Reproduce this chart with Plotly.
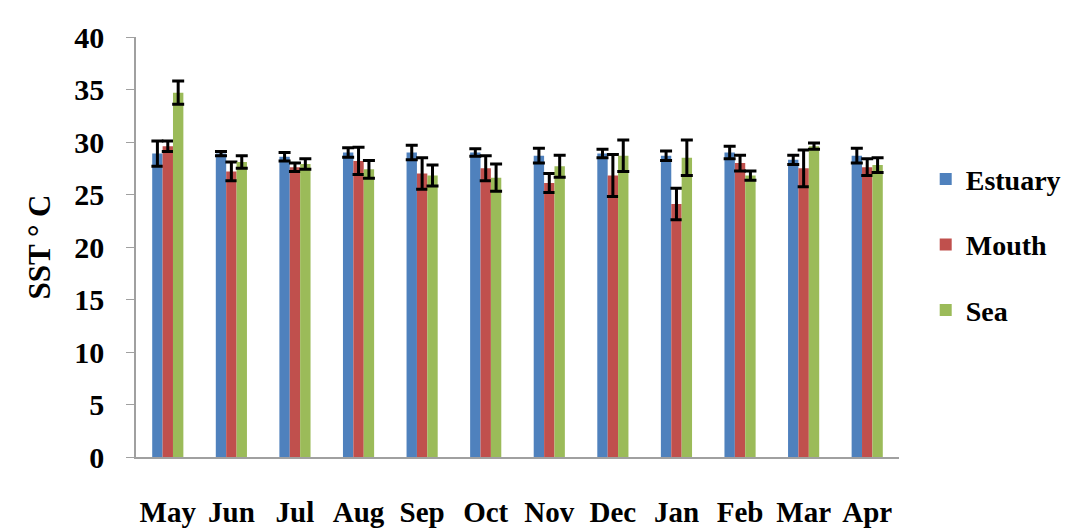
import plotly.graph_objects as go

months = ["May", "Jun", "Jul", "Aug", "Sep", "Oct", "Nov", "Dec", "Jan", "Feb", "Mar", "Apr"]
estuary = [28.9, 28.9, 28.6, 29.0, 29.0, 29.0, 28.7, 28.9, 28.7, 29.0, 28.3, 28.7]
estuary_err = [1.2, 0.2, 0.4, 0.45, 0.7, 0.35, 0.7, 0.4, 0.45, 0.6, 0.45, 0.7]
mouth = [29.6, 27.2, 27.6, 28.2, 27.0, 27.5, 26.1, 26.8, 24.1, 28.0, 27.5, 27.6]
mouth_err = [0.5, 0.9, 0.4, 1.3, 1.5, 1.2, 0.9, 2.0, 1.5, 0.75, 1.75, 0.8]
sea = [34.7, 28.1, 27.9, 27.4, 26.8, 26.6, 27.7, 28.7, 28.5, 26.8, 29.6, 27.8]
sea_err = [1.1, 0.6, 0.5, 0.85, 1.0, 1.3, 1.05, 1.5, 1.7, 0.45, 0.3, 0.7]

series = [
    ("Estuary", estuary, estuary_err, "#4F81BD"),
    ("Mouth", mouth, mouth_err, "#C0504D"),
    ("Sea", sea, sea_err, "#9BBB59"),
]

FONT = "Liberation Serif"
fig = go.Figure()
for name, vals, errs, color in series:
    fig.add_trace(go.Bar(
        name=name, x=months, y=vals, legendgroup=name,
        marker=dict(color=color, line=dict(width=0)),
        error_y=dict(type="data", array=errs, visible=True,
                     color="black", thickness=3, width=6),
    ))

fig.update_layout(
    width=1070, height=532,
    margin=dict(l=128, r=177, t=28, b=73),
    paper_bgcolor="white", plot_bgcolor="white",
    barmode="group", bargap=0.51, bargroupgap=0,
    font=dict(family=FONT, color="black"),
    showlegend=True,
    legend=dict(
        x=1.035, y=0.505, xanchor="left", yanchor="middle",
        font=dict(family=FONT, size=28, color="black", weight="bold"),
        tracegroupgap=26, itemwidth=30,
    ),
    xaxis=dict(
        showline=True, linecolor="#A0A0A0", linewidth=1.5,
        ticks="", showgrid=False,
        tickfont=dict(family=FONT, size=29, color="black", weight="bold"),
        ticklabelstandoff=28,
    ),
    yaxis=dict(
        range=[0, 40], dtick=5, showline=True, linecolor="#A0A0A0", linewidth=1.5,
        ticks="outside", ticklen=8, tickcolor="#A0A0A0", showgrid=False, zeroline=False,
        tickfont=dict(family=FONT, size=30, color="black", weight="bold"),
        ticklabelstandoff=16,
        title=dict(text="SST ° C", font=dict(family=FONT, size=31, color="black", weight="bold"),
                   standoff=14),
    ),
)

fig.write_html("out.html")
